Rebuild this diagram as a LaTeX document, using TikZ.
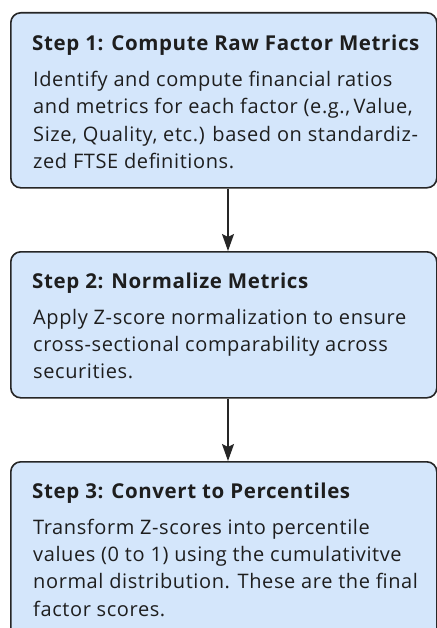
\documentclass[tikz,border=0pt]{standalone}
\usepackage{fontspec}
\setmainfont{Open Sans}[LetterSpace=3]
\usetikzlibrary{arrows.meta}
\definecolor{boxfill}{HTML}{D4E6FB}
\definecolor{boxline}{HTML}{262626}
\definecolor{txt}{HTML}{1E1E1E}
\newcommand{\bodylines}[1]{{\fontsize{20bp}{27.4bp}\selectfont\begin{tabular}[t]{@{}l@{}}#1\end{tabular}}}
\tikzset{
  stepbox/.style={draw=boxline, fill=boxfill, line width=1.6bp, rounded corners=10bp,
    minimum width=426bp, inner sep=0pt, anchor=north west},
  title/.style={anchor=base west, inner sep=0pt, text=txt, font=\fontsize{20.5bp}{23bp}\selectfont\bfseries},
  body/.style={anchor=base west, inner sep=0pt, text=txt},
  flow/.style={draw=boxline, line width=1.6bp, -{Stealth[length=17bp,width=12bp,inset=3bp]}}
}
\begin{document}
\begin{tikzpicture}[x=1bp,y=1bp]
\useasboundingbox (0,0) rectangle (437,-628);
\clip (0,0) rectangle (437,-628);
\fill[white] (0,0) rectangle (437,-628);
\node[stepbox, minimum height=175bp] (b1) at (10,-12) {};
\node[stepbox, minimum height=146bp] (b2) at (10,-251) {};
\node[stepbox, minimum height=200bp] (b3) at (10,-461) {};
\coordinate (ax) at (228,0);
\node[title] (t1) at (32,-51) {Step 1: Compute Raw Factor Metrics};
\node[body] (d1) at (33,-86.5) {\bodylines{Identify and compute financial ratios\\and metrics for each factor (e.g.,\,Value,\\Size, Quality, etc.) based on standardiz-\\zed FTSE definitions.}};
\node[title] (t2) at (32,-288) {Step 2: Normalize Metrics};
\node[body] (d2) at (33,-324) {\bodylines{Apply Z-score normalization to ensure\\cross-sectional comparability across\\securities.}};
\node[title] (t3) at (32,-498) {Step 3: Convert to Percentiles};
\node[body] (d3) at (33,-534) {\bodylines{Transform Z-scores into percentile\\values (0 to 1) using the cumulativitve\\normal distribution. These are the final\\factor scores.}};
\draw[flow] (b1.south -| ax) -- (b2.north -| ax);
\draw[flow] (b2.south -| ax) -- (b3.north -| ax);
\end{tikzpicture}
\end{document}
